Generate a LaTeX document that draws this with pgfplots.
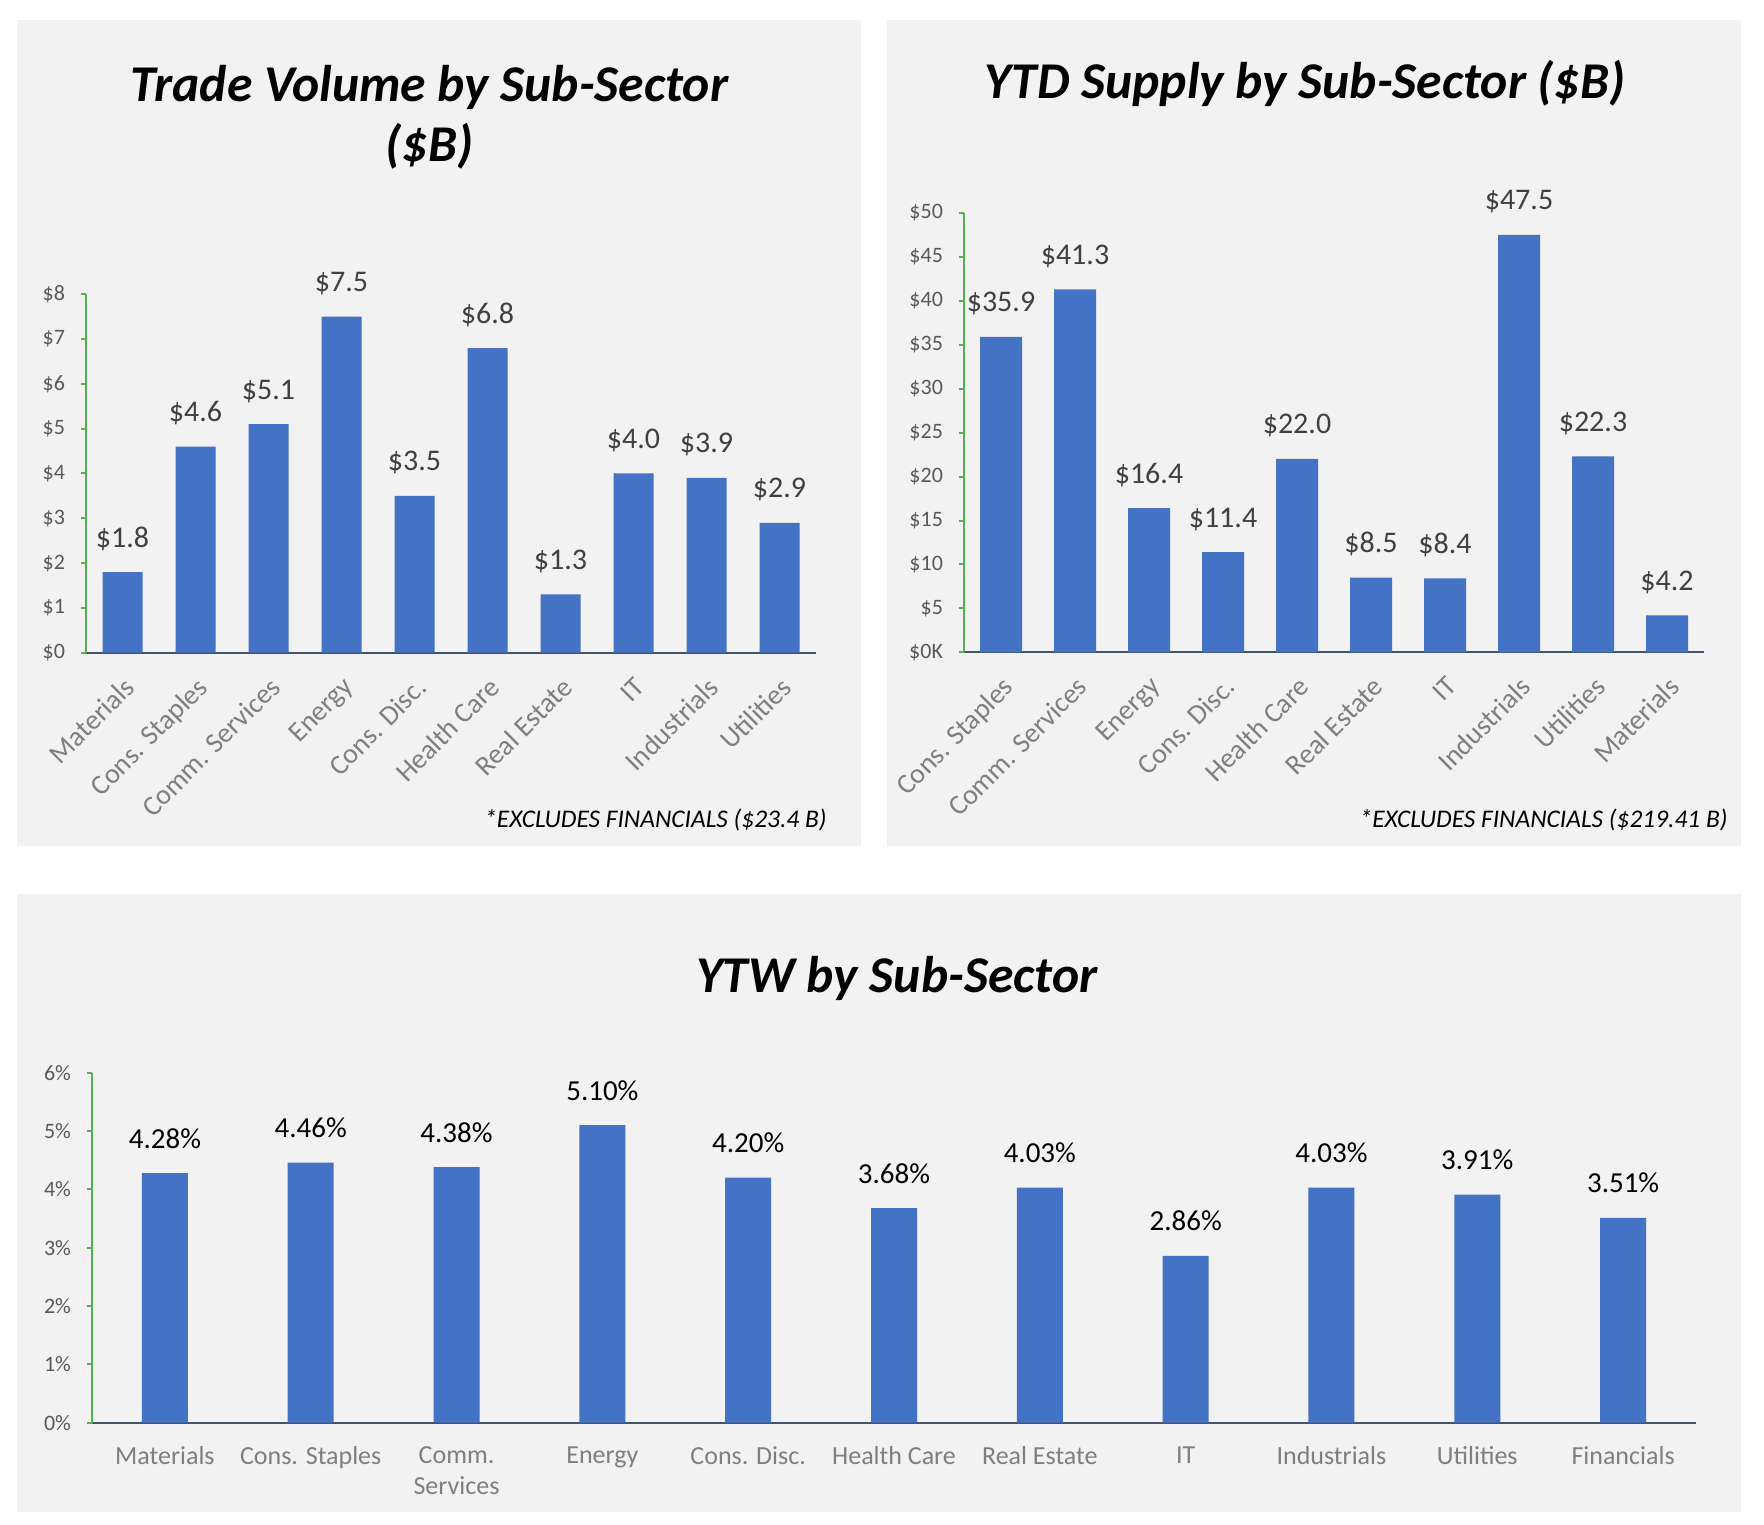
\documentclass[border=0pt]{standalone}
\usepackage{pgfplots}
\pgfplotsset{compat=1.18}
\usepackage{fontspec}
\setmainfont{Carlito}
\definecolor{panel}{HTML}{F2F2F2}
\definecolor{barc}{HTML}{4472C4}
\definecolor{ticklab}{HTML}{595959}
\definecolor{datalab}{HTML}{404040}
\definecolor{xlab}{HTML}{7F7F7F}
\definecolor{yaxisc}{RGB}{84,178,84}
\definecolor{xaxisc}{HTML}{44546A}
\pgfplotsset{
 exbar/.style={
  scale only axis, anchor=south west, ybar,
  axis x line*=bottom, axis y line*=left,
  x axis line style={draw=xaxisc, line width=1pt, -},
  y axis line style={draw=yaxisc, line width=1pt, -},
  xtick style={draw=none},
  ytick style={draw=yaxisc, line width=1pt},
  tick align=outside, major tick length=2.5pt,
  enlargelimits=false, clip=false,
  xtick=data,
  yticklabel style={font=\fontsize{11}{13}\selectfont, text=ticklab},
  yticklabel shift=4.5pt,
  /pgf/number format/assume math mode=true,
 }
}
\begin{document}
\begin{tikzpicture}
\fill[white] (0,0) rectangle (882pt,762pt);
\fill[panel] (8.5pt,339pt) rectangle (430.5pt,752pt);
\fill[panel] (443.5pt,339pt) rectangle (870.5pt,752pt);
\fill[panel] (8.5pt,6pt) rectangle (870.5pt,315pt);

% Top-left
\begin{axis}[exbar, at={(43pt,435.65pt)}, width=365pt, height=179.2pt,
  xmin=-0.5, xmax=9.5, ymin=0, ymax=8, bar width=20pt,
  ytick={0,1,2,3,4,5,6,7,8},
  yticklabels={\$0,\$1,\$2,\$3,\$4,\$5,\$6,\$7,\$8},
  xticklabels={Materials,Cons. Staples,Comm. Services,Energy,Cons. Disc.,Health Care,Real Estate,IT,Industrials,Utilities},
  xticklabel style={rotate=45, anchor=north east, font=\fontsize{14}{16}\selectfont, text=xlab},
  xticklabel shift=4pt,
  nodes near coords={\$\pgfmathprintnumber[fixed,fixed zerofill,precision=1]{\pgfplotspointmeta}},
  every node near coord/.append style={font=\fontsize{15}{18}\selectfont, text=datalab, anchor=base, yshift=12.5pt, inner sep=0pt},
]
\addplot[fill=barc, draw=none] coordinates {(0,1.8) (1,4.6) (2,5.1) (3,7.5) (4,3.5) (5,6.8) (6,1.3) (7,4.0) (8,3.9) (9,2.9)};
\end{axis}

% Top-right
\begin{axis}[exbar, at={(482pt,435.85pt)}, width=370pt, height=219.65pt,
  xmin=-0.5, xmax=9.5, ymin=0, ymax=50, bar width=21pt,
  ytick={0,5,10,15,20,25,30,35,40,45,50},
  yticklabels={\$0K,\$5,\$10,\$15,\$20,\$25,\$30,\$35,\$40,\$45,\$50},
  xticklabels={Cons. Staples,Comm. Services,Energy,Cons. Disc.,Health Care,Real Estate,IT,Industrials,Utilities,Materials},
  xticklabel style={rotate=45, anchor=north east, font=\fontsize{14}{16}\selectfont, text=xlab},
  xticklabel shift=4pt,
  nodes near coords={\$\pgfmathprintnumber[fixed,fixed zerofill,precision=1]{\pgfplotspointmeta}},
  every node near coord/.append style={font=\fontsize{15}{18}\selectfont, text=datalab, anchor=base, yshift=12.5pt, inner sep=0pt},
]
\addplot[fill=barc, draw=none] coordinates {(0,35.9) (1,41.3) (2,16.4) (3,11.4) (4,22.0) (5,8.5) (6,8.4) (7,47.5) (8,22.3) (9,4.2)};
\end{axis}

% Bottom
\begin{axis}[exbar, at={(46pt,50.65pt)}, width=802pt, height=175pt,
  xmin=-0.5, xmax=10.5, ymin=0, ymax=6, bar width=23pt,
  ytick={0,1,2,3,4,5,6},
  yticklabels={0\%,1\%,2\%,3\%,4\%,5\%,6\%},
  xticklabels={Materials,Cons. Staples,{Comm.\\Services},Energy,Cons. Disc.,Health Care,Real Estate,IT,Industrials,Utilities,Financials},
  xticklabel style={align=center, font=\fontsize{13}{15.5}\selectfont, text=xlab},
  xticklabel shift=6pt,
  nodes near coords={\pgfmathprintnumber[fixed,fixed zerofill,precision=2]{\pgfplotspointmeta}\%},
  every node near coord/.append style={font=\fontsize{14.5}{17}\selectfont, text=black, anchor=base, yshift=12.5pt, inner sep=0pt},
]
\addplot[fill=barc, draw=none] coordinates {(0,4.28) (1,4.46) (2,4.38) (3,5.10) (4,4.20) (5,3.68) (6,4.03) (7,2.86) (8,4.03) (9,3.91) (10,3.51)};
\end{axis}

\node[anchor=base, font=\fontsize{25.8}{31}\selectfont\bfseries\itshape] at (214.75pt,711.25pt) {Trade Volume by Sub-Sector};
\node[anchor=base, font=\fontsize{25.8}{31}\selectfont\bfseries\itshape] at (214.75pt,681pt) {(\$B)};
\node[anchor=base, font=\fontsize{25.8}{31}\selectfont\bfseries\itshape] at (652.5pt,712.5pt) {YTD Supply by Sub-Sector (\$B)};
\node[anchor=base, font=\fontsize{25.8}{31}\selectfont\bfseries\itshape] at (448.35pt,265.5pt) {YTW by Sub-Sector};
\node[anchor=base east, inner sep=0pt, font=\fontsize{12.7}{15}\selectfont\itshape] at (413.5pt,348pt) {*EXCLUDES FINANCIALS (\$23.4 B)};
\node[anchor=base east, inner sep=0pt, font=\fontsize{12.7}{15}\selectfont\itshape] at (864pt,348pt) {*EXCLUDES FINANCIALS (\$219.41 B)};
\end{tikzpicture}
\end{document}
